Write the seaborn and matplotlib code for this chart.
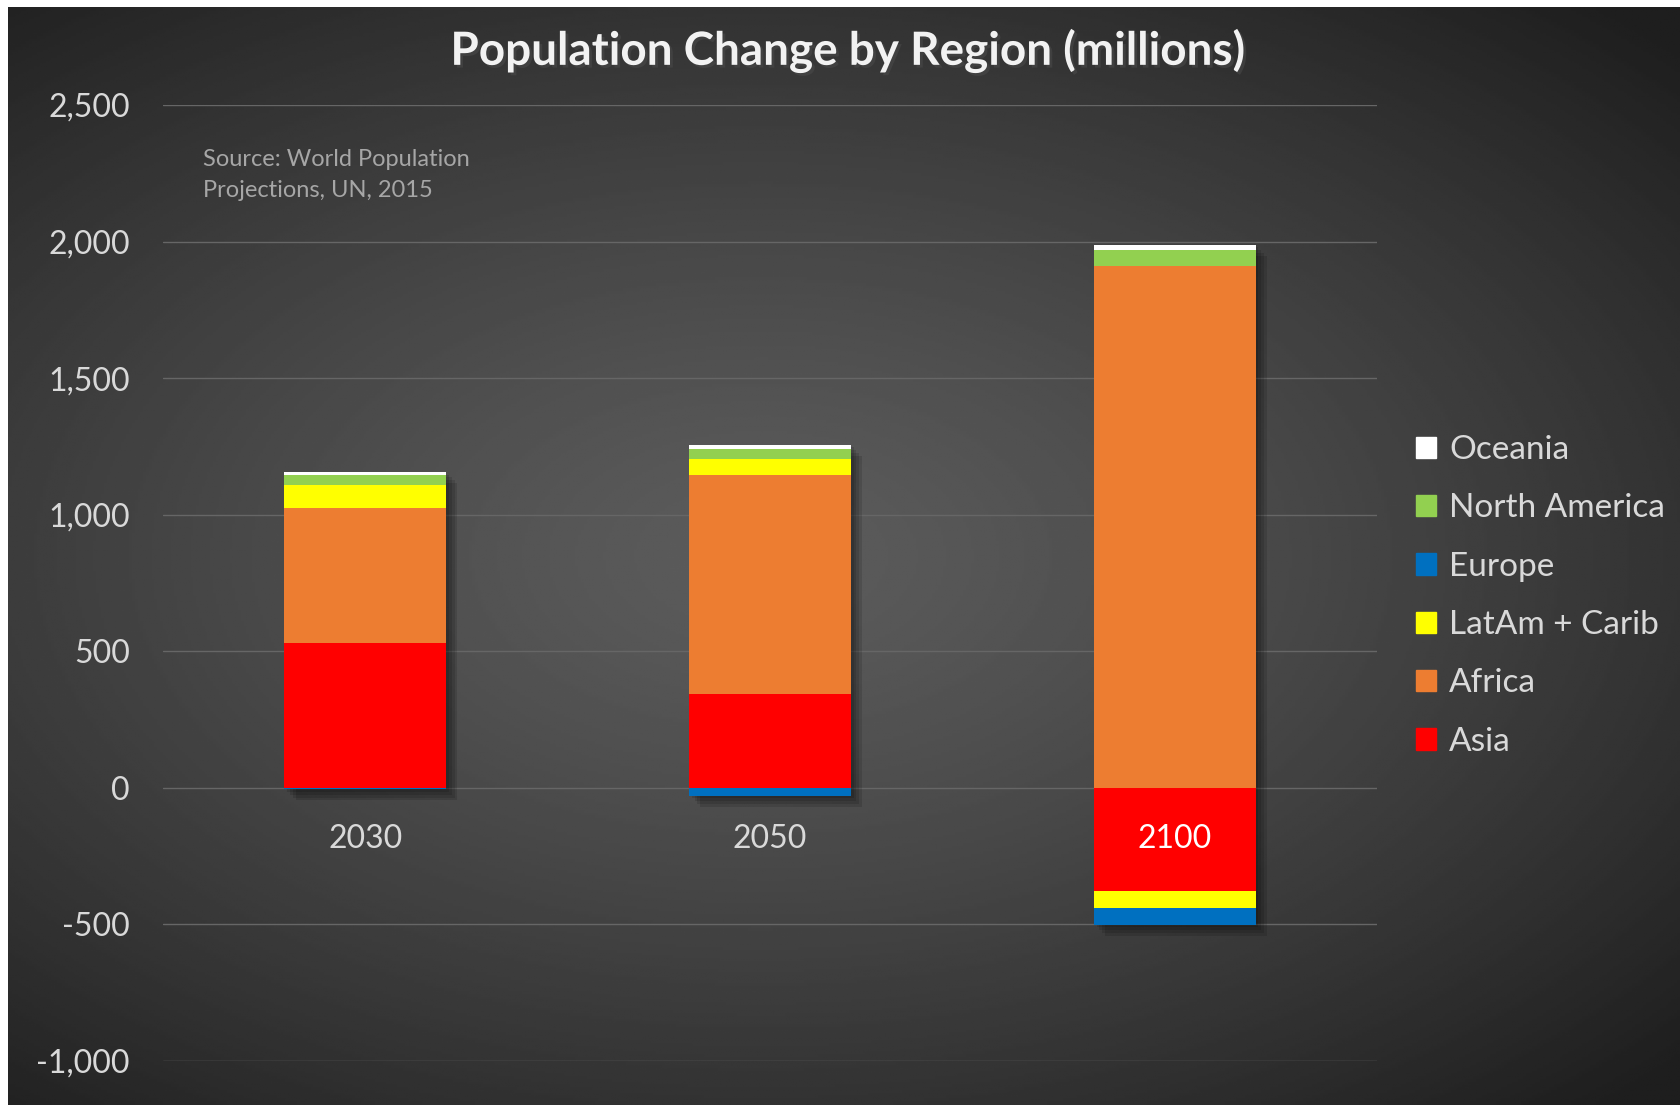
import numpy as np
import pandas as pd
import matplotlib
matplotlib.use('Agg')
import matplotlib.pyplot as plt
import matplotlib.patheffects as pe
import seaborn as sns

# Data (millions)
years = ['2030', '2050', '2100']
asia = [529, 344, -379]
africa = [494, 800, 1909]
latam = [85, 61, -61]
europe = [-5, -28, -61]
north_america = [36, 37, 61]
oceania = [13, 15, 19]

regions = ['Asia', 'Africa', 'LatAm + Carib', 'Europe', 'North America', 'Oceania']
colors = ['#FF0000', '#ED7D31', '#FFFF00', '#0070C0', '#92D050', '#FFFFFF']

df = pd.DataFrame({'Asia': asia, 'Africa': africa, 'LatAm + Carib': latam,
                   'Europe': europe, 'North America': north_america,
                   'Oceania': oceania}, index=years)

sns.set_theme(style='dark')
plt.rcParams['font.family'] = ['Lato', 'DejaVu Sans']

W, H = 1681, 1105
fig = plt.figure(figsize=(W / 100, H / 100), dpi=100, facecolor='white')

# gradient background
bg = fig.add_axes([8 / W, 0, 1 - 8 / W, 1 - 7 / H])
yy, xx = np.mgrid[0:1:400j, 0:1:600j]
r = np.sqrt(((xx - 0.45) / 1.0) ** 2 + ((yy - 0.5) / 0.9) ** 2)
shade = 0.36 - 0.24 * np.clip(r / 0.75, 0, 1) ** 1.3
bg.imshow(shade, cmap='gray', vmin=0, vmax=1, aspect='auto', extent=[0, 1, 0, 1])
bg.axis('off')

ax = fig.add_axes([163 / W, 44 / H, 1214 / W, 956 / H])
ax.set_facecolor('none')

# soft shadow behind the full stacks
pos_total = df.clip(lower=0).sum(axis=1).values
neg_total = df.clip(upper=0).sum(axis=1).values
shadow = [pe.SimplePatchShadow(offset=(d, -d), shadow_rgbFace='black', alpha=0.12)
          for d in (2, 4, 6, 8)] + [pe.Normal()]
for tot in (pos_total, neg_total):
    sns.barplot(x=years, y=tot, color='#3a3a3a', width=0.4, ax=ax, saturation=1,
                linewidth=0, path_effects=shadow, zorder=2)

pos_bottom = np.zeros(len(years))
neg_bottom = np.zeros(len(years))
for region, col in zip(regions, colors):
    vals = df[region].values
    bottom = np.where(vals >= 0, pos_bottom, neg_bottom)
    sns.barplot(x=years, y=vals, bottom=bottom, color=col, width=0.4, ax=ax,
                saturation=1, linewidth=0, zorder=3)
    pos_bottom = pos_bottom + np.clip(vals, 0, None)
    neg_bottom = neg_bottom + np.clip(vals, None, 0)

ax.set_ylim(-1000, 2500)
ax.set_xlim(-0.5, 2.5)
ax.set_yticks(range(-1000, 2501, 500))
ax.set_yticklabels([f'{v:,}' for v in range(-1000, 2501, 500)])
ax.tick_params(axis='y', colors='#d9d9d9', labelsize=23, length=0, pad=24)
ax.set_xticks([])
ax.set_xlabel('')
ax.set_ylabel('')
ax.grid(axis='y', color='#666666', linewidth=1)
ax.set_axisbelow(True)
for s in ax.spines.values():
    s.set_visible(False)

# category labels sit just under the zero line
for i, yr in enumerate(years):
    ax.annotate(yr, (i, 0), xytext=(0, -51), textcoords='offset pixels',
                ha='center', va='center', fontsize=23,
                color='white' if yr == '2100' else '#d9d9d9', zorder=5)

fig.text(848 / W, 1 - 51 / H, 'Population Change by Region (millions)',
         ha='center', va='center', fontsize=33, fontweight='bold', color='#f2f2f2',
         path_effects=[pe.withSimplePatchShadow(offset=(2, -2), alpha=0.6)])

fig.text(203 / W, 1 - 175 / H, 'Source: World Population\nProjections, UN, 2015',
         ha='left', va='center', fontsize=17, color='#a6a6a6', linespacing=1.55)

handles = [plt.Rectangle((0, 0), 1, 1, color=c) for c in colors]
fig.legend(handles[::-1], regions[::-1], loc='upper left',
           bbox_to_anchor=(1386 / W, 1 - 405 / H), frameon=False,
           fontsize=24, labelcolor='#d9d9d9', handlelength=0.6, handleheight=0.6,
           handletextpad=0.4, labelspacing=0.85)

fig.savefig('out.png', dpi=100, facecolor=fig.get_facecolor())
